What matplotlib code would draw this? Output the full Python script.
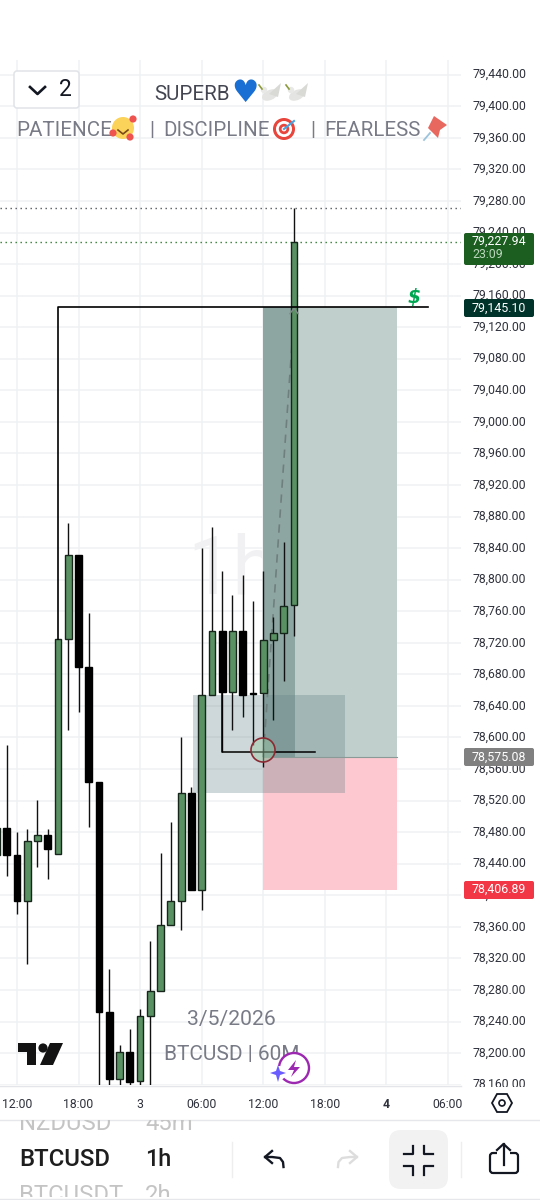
import matplotlib
matplotlib.use("Agg")
import matplotlib.pyplot as plt
from matplotlib.patches import Rectangle, FancyBboxPatch, Circle, Polygon, Ellipse
from matplotlib.transforms import Bbox, ScaledTranslation
from matplotlib.ticker import FuncFormatter

plt.rcParams['font.family'] = ['Roboto', 'DejaVu Sans']

# ---------- data ----------
bar_index = list(range(-1, 29))
opens = [78451, 78485, 78451, 78393, 78469, 78477, 78452, 78725, 78831, 78689, 78543, 78252, 78167, 78202, 78164,
         78247, 78279, 78362, 78393, 78530, 78407, 78654, 78735, 78658, 78735, 78656, 78656, 78724, 78733, 78768]
closes = [78485, 78451, 78393, 78469, 78477, 78459, 78725, 78831, 78689, 78543, 78252, 78167, 78202, 78163, 78247,
          78279, 78362, 78393, 78530, 78407, 78654, 78735, 78658, 78735, 78654, 78655, 78724, 78733, 78767, 79228]
highs = [78590, 78590, 78480, 78484, 78521, 78484, 78725, 78872, 78831, 78758, 78543, 78307, 78210, 78231, 78256,
         78342, 78454, 78493, 78601, 78537, 78840, 78867, 78811, 78781, 78806, 78773, 78811, 78753, 78848, 79271]
lows = [78419, 78425, 78376, 78313, 78436, 78421, 78452, 78610, 78632, 78487, 78140, 78140, 78140, 78140, 78140,
        78140, 78362, 78393, 78356, 78407, 78381, 78654, 78582, 78609, 78626, 78590, 78563, 78622, 78672, 78729]

y_ticks = [79440 - 40 * k for k in range(33)]
x_tick_pos = [1, 7, 13, 19, 25, 31, 37, 43]
x_tick_labels = ['12:00', '18:00', '3', '06:00', '12:00', '18:00', '4', '06:00']

high_level = 79271
last_price = 79227.94
target = 79145.10
entry = 78575.08
stop = 78406.89
box_low, box_high = 78530, 78654
mark_level = 78581.6

GREEN = '#5a9163'
EDGE = '#16261a'
BLACK = '#000000'
GRID = '#f0f1f3'
TXT = '#2f323c'
GRAY = '#787b86'

fig = plt.figure(figsize=(5.4, 12), dpi=100, facecolor='white')
W, H = 540, 1200
AX_R, AX_T, AX_B = 461, 60, 1085
ax = fig.add_axes([0, 1 - AX_B / H, AX_R / W, (AX_B - AX_T) / H])
x0, dx = 6.7, 10.26
ax.set_xlim(-x0 / dx, (AX_R - x0) / dx)
p = lambda y: 79440 - (y - 74.7) * 1.2674
ax.set_ylim(p(AX_B), p(AX_T))
ax.set_facecolor('none')
for s in ax.spines.values():
    s.set_visible(False)

ax.set_yticks(y_ticks)
ax.yaxis.tick_right()
ax.yaxis.set_major_formatter(FuncFormatter(lambda v, _: f'{v:,.2f}'))
ax.tick_params(axis='y', length=0, pad=8.5, labelsize=8.8, labelcolor=TXT)
clip = Bbox([[0, H - 1087], [W, H]])
for tick in ax.yaxis.get_major_ticks():
    lab = tick.label2
    lab.set_transform(lab.get_transform() + ScaledTranslation(0, 1.5 / 100, fig.dpi_scale_trans))
    lab.set_clip_box(clip)
    lab.set_clip_on(True)
ax.set_xticks(x_tick_pos)
ax.set_xticklabels(x_tick_labels)
ax.tick_params(axis='x', length=0, pad=9.5, labelsize=8.8, labelcolor=TXT)
ax.get_xticklabels()[6].set_fontweight('bold')
ax.grid(True, color=GRID, lw=1.1, zorder=0)
ax.set_axisbelow(True)

# watermark
ax.text(22, p(572), '1h', fontsize=58, color='#f1f1f3', ha='center', va='center', zorder=0.5)

# dotted levels
ax.axhline(high_level, color='#555a60', lw=1, ls=(0, (1, 2.6)), zorder=2)
ax.axhline(last_price, color='#2e7d32', lw=1, ls=(0, (1, 2.6)), zorder=2)

# position tool
L, R = 25, 38.04
ax.add_patch(Rectangle((L, entry), R - L, target - entry, fc='#c1cfcc', ec='none', zorder=1))
ax.add_patch(Rectangle((L, stop), R - L, entry - stop, fc='#fdc8cf', ec='none', zorder=1))
ax.add_patch(Rectangle((L, entry), 3.1, target - entry, fc='#3c645f', alpha=0.38, ec='none', zorder=1.1))
ax.add_patch(Rectangle((18.15, box_low), 33 - 18.15, box_high - box_low, fc='#5f7f85', alpha=0.3, ec='none', zorder=1.2))
ax.plot([L, R], [entry, entry], color='#8a9a96', lw=0.8, zorder=1.3)

# candles
body_w = 0.66
for i, o, c, h, l in zip(bar_index, opens, closes, highs, lows):
    up = c >= o
    ax.plot([i, i], [l, h], color='#111111', lw=1.0, zorder=3, solid_capstyle='butt')
    lo, hi = min(o, c), max(o, c)
    ax.bar(i, max(hi - lo, 0.8), bottom=lo, width=body_w, color=GREEN if up else BLACK,
           edgecolor=EDGE if up else BLACK, linewidth=1.0, zorder=3.2)

# drawings
ax.plot([5, 5, 41.06], [78725, target, target], color='black', lw=1.2, zorder=4)
ax.plot([21, 21, 30.05], [78658, mark_level, mark_level], color='black', lw=1.1, zorder=4)
ax.plot([25, 28], [entry, target - 10], color='#6f7f7d', lw=1.2, ls=(0, (5, 4)), zorder=2.5)
ax.plot([27.6, 28, 28.4], [target - 8, target - 1, target - 8], color='#7f8c8a', lw=1, zorder=3.5)

# ---------- interface overlay in pixel coordinates ----------
ui = fig.add_axes([0, 0, 1, 1], zorder=5)
ui.set_xlim(0, W)
ui.set_ylim(H, 0)
ui.axis('off')
ui.patch.set_alpha(0)

ui.add_patch(Circle((263, 750), 12, fc='#9cc9a2', alpha=0.45, ec='none', zorder=3))
ui.add_patch(Circle((263, 750), 12, fc='none', ec='#8a2a33', lw=1.2, zorder=3))
ui.text(414, 297, '$', fontsize=13.5, color='#00a651', fontweight='bold', style='italic', ha='center', va='center',
        family='DejaVu Sans')


def badge(x0_, y0_, x1_, y1_, col):
    ui.add_patch(FancyBboxPatch((x0_ + 2, y0_ + 2), x1_ - x0_ - 4, y1_ - y0_ - 4,
                                boxstyle='round,pad=2,rounding_size=2', fc=col, ec='none', zorder=6))


TXTX = 499
badge(464, 233, 534, 265, '#1b5e20')
ui.text(TXTX, 241, '79,227.94', color='white', fontsize=8.9, ha='center', va='center', zorder=7)
ui.text(472, 255, '23:09', color='#bcd6be', fontsize=8.9, ha='left', va='center', zorder=7)
badge(464, 299, 534, 317, '#00332a')
ui.text(TXTX, 308, '79,145.10', color='white', fontsize=8.9, ha='center', va='center', zorder=7)
badge(464, 748, 534, 766, '#808080')
ui.text(TXTX, 757, '78,575.08', color='white', fontsize=8.9, ha='center', va='center', zorder=7)
badge(464, 881, 534, 899, '#f23645')
ui.text(TXTX, 889, '78,406.89', color='white', fontsize=8.9, ha='center', va='center', zorder=7)

# top-left widget
ui.add_patch(FancyBboxPatch((16, 73), 61, 33, boxstyle='round,pad=2,rounding_size=3', fc='white', ec='#e0e3e8', lw=1.1, zorder=6))
ui.plot([30, 37.5, 45], [87, 94, 87], color='#131722', lw=1.9, zorder=7)
ui.text(65, 90, '2', fontsize=16.5, color='#131722', ha='center', va='center', zorder=7)

# header
ui.text(154, 95, 'SUPERB', fontsize=14.8, color='#434651', ha='left', va='center', zorder=7)
ui.text(244.5, 93.5, '\u2665', fontsize=22, color='#1a6fd4', ha='center', va='center', family='DejaVu Sans', zorder=7)


def dove(cx, cy):
    ui.add_patch(Ellipse((cx, cy + 1), 17, 10, angle=-25, fc='#e4e4e2', ec='none', zorder=7))
    ui.add_patch(Polygon([[cx - 1, cy], [cx + 11, cy - 11], [cx + 8, cy + 3]], fc='#d9d9d6', ec='none', zorder=7))
    ui.add_patch(Circle((cx - 6, cy - 4), 3.2, fc='#e8e8e6', ec='none', zorder=7))
    ui.plot([cx - 11, cx - 8], [cy - 9, cy - 5], color='#8c9a3c', lw=1.2, zorder=7)


dove(270, 94)
dove(297, 94)

for x_, s_ in [(16, 'PATIENCE'), (149, '|'), (163, 'DISCIPLINE'), (310, '|'), (324, 'FEARLESS')]:
    ui.text(x_, 130, s_, fontsize=14.8, color=GRAY, ha='left', va='center', zorder=7)
ui.add_patch(Circle((123, 128), 11, fc='#fbd35a', ec='none', zorder=7))
ui.plot([118, 123, 128], [130, 134, 130], color='#7a4a1a', lw=1.2, zorder=8)
for c_ in [(113, 133), (130, 137), (133, 119)]:
    ui.add_patch(Circle(c_, 3.6, fc='#ef5350', ec='none', zorder=8))
for r_, col in [(11, '#e8453c'), (8, 'white'), (5.2, '#e8453c'), (2.4, 'white')]:
    ui.add_patch(Circle((284, 129), r_, fc=col, ec='none', zorder=7))
ui.plot([284, 294], [129, 121], color='#4aa3df', lw=1.5, zorder=8)
ui.add_patch(Polygon([[434, 116], [447, 125], [440, 130], [438, 138], [428, 128], [431, 122]], fc='#e8675f', ec='none', zorder=7))
ui.plot([430, 424], [133, 140], color='#9cc4dd', lw=1.3, zorder=7)

# lower-left labels
ui.text(231, 1020, '3/5/2026', fontsize=15.2, color=GRAY, ha='center', va='center', zorder=2)
ui.text(164, 1055, 'BTCUSD | 60M', fontsize=15, color=GRAY, ha='left', va='center', zorder=2)
ui.add_patch(Polygon([[18, 1043], [36, 1043], [36, 1065], [27, 1065], [27, 1052], [18, 1052]], fc='#131313', ec='none', zorder=2))
ui.add_patch(Circle((43, 1048), 4.6, fc='#131313', ec='none', zorder=2))
ui.add_patch(Polygon([[50, 1043], [63, 1043], [53, 1065], [40, 1065]], fc='#131313', ec='none', zorder=2))

# purple badge
ui.add_patch(Circle((294, 1068), 15, fc='white', ec='#9c27b0', lw=1.7, zorder=3))
ui.add_patch(Polygon([[296, 1060], [288, 1070], [294, 1070], [291, 1077], [300, 1067], [294, 1067]], fc='#9c27b0', ec='none', zorder=3))
ui.add_patch(Circle((279, 1073), 7, fc='white', ec='none', zorder=3.1))
ui.add_patch(Polygon([[278, 1065], [280, 1071], [286, 1073], [280, 1075], [278, 1082], [276, 1075], [270, 1073], [276, 1071]], fc='#6a5cff', ec='none', zorder=3.2))

# axis bottom border and panel
ui.plot([0, 461], [1085.5, 1085.5], color='#e3e5ea', lw=1, zorder=2)
ui.plot([0, 540], [1119.5, 1119.5], color='#e6e7ea', lw=1, zorder=2)
ui.add_patch(Polygon([[492, 1103], [497, 1094], [507, 1094], [512, 1103], [507, 1112], [497, 1112]], fc='white', ec='#131722', lw=1.3, zorder=2))
ui.add_patch(Circle((502, 1103), 3, fc='white', ec='#131722', lw=1.2, zorder=3))

ui.text(19, 1160, 'BTCUSD', fontsize=17.2, fontweight='medium', color='#1e1e1e', ha='left', va='center')
ui.text(145, 1160, '1h', fontsize=16.8, fontweight='medium', color='#1e1e1e', ha='left', va='center')
for x_, s_ in [(19, 'NZDUSD'), (145, '45m')]:
    t = ui.text(x_, 1124, s_, fontsize=17.2, color='#c4c4c4', ha='left', va='center')
    t.set_clip_box(Bbox([[0, H - 1200], [W, H - 1120]]))
    t.set_clip_on(True)
for x_, s_ in [(19, 'BTCUSDT'), (145, '2h')]:
    t = ui.text(x_, 1196, s_, fontsize=17.2, color='#c4c4c4', ha='left', va='center')
    t.set_clip_box(Bbox([[0, H - 1197], [W, H - 1120]]))
    t.set_clip_on(True)
ui.plot([0, 540], [1198.5, 1198.5], color='#e6e7ea', lw=1)
ui.plot([232, 232], [1142, 1177], color='#eeeeee', lw=1)
ui.plot([461, 461], [1142, 1177], color='#eeeeee', lw=1)

# toolbar icons
ui.plot([283.5, 283, 280, 272, 265], [1167, 1162, 1158, 1157, 1157], color='#131722', lw=1.7)
ui.plot([272, 265, 272], [1151, 1157, 1163], color='#131722', lw=1.7)
ui.plot([338, 338.5, 342, 350, 357], [1167, 1162, 1158, 1157, 1157], color='#dddddd', lw=1.7)
ui.plot([350, 357, 350], [1151, 1157, 1163], color='#dddddd', lw=1.7)
ui.add_patch(FancyBboxPatch((399, 1140), 39, 39, boxstyle='round,pad=10,rounding_size=12', fc='#f2f2f3', ec='none'))
for sx, sy in [(-1, -1), (1, -1), (-1, 1), (1, 1)]:
    ui.plot([418.5 + sx * 14.5, 418.5 + sx * 5.5, 418.5 + sx * 5.5], [1160 + sy * 6, 1160 + sy * 6, 1160 + sy * 14.5], color='#131722', lw=1.6)
ui.add_patch(FancyBboxPatch((490, 1153), 28, 20, boxstyle='round,pad=0,rounding_size=3', fc='none', ec='#131722', lw=1.6))
ui.add_patch(Rectangle((497, 1150), 13, 6, fc='white', ec='none'))
ui.plot([503.5, 503.5], [1144, 1165], color='#131722', lw=1.6)
ui.plot([497, 503.5, 510], [1150, 1144, 1150], color='#131722', lw=1.6)

fig.savefig('out.png', dpi=100)
